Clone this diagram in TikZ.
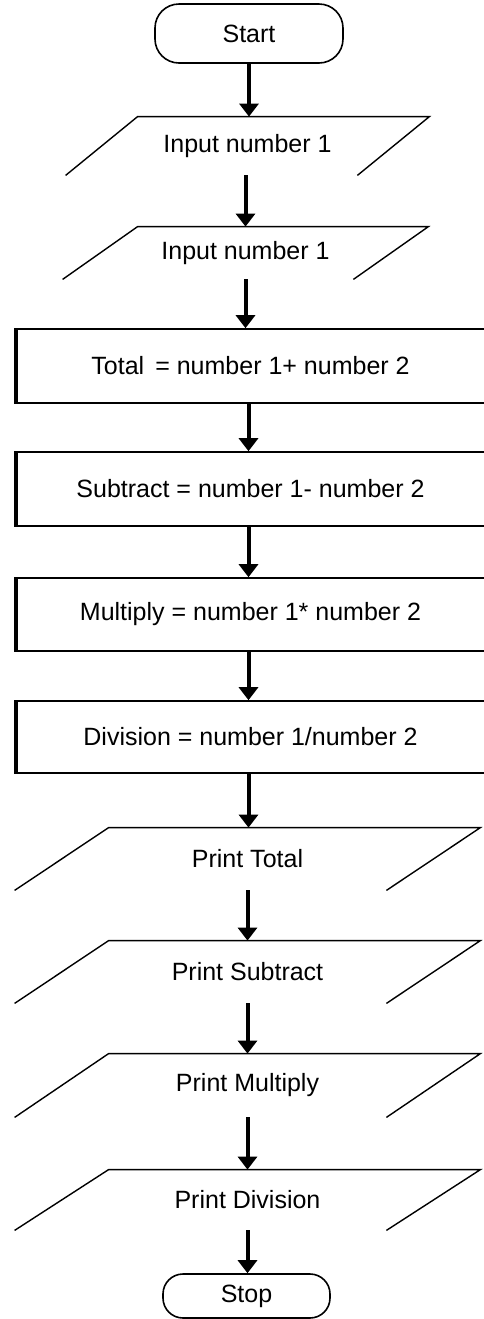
\documentclass[tikz,border=0pt]{standalone}
\usepackage{fontspec}
\setmainfont{Liberation Sans}
\usetikzlibrary{arrows.meta, calc}
\tikzset{
  term/.style={draw, line width=0.8pt, rounded corners=12pt, inner sep=0pt,
               font=\fontsize{12.5}{15}\selectfont},
  io/.style={inner sep=0pt, font=\fontsize{12.5}{15}\selectfont},
  proc/.style={draw, line width=0.8pt, minimum width=234.5pt, minimum height=37pt,
               inner sep=0pt, font=\fontsize{12.5}{15}\selectfont},
  ioline/.style={line width=0.7pt},
  flow/.style={-{Triangle[width=9.5pt,length=6.5pt]}, line width=2pt},
}
\newcommand{\ioshape}[2]{\draw[ioline] (#1.south west) -- ([xshift=#2]#1.north west)
  -- (#1.north east) -- ([xshift=-#2]#1.south east);}
\newcommand{\thickside}[1]{\draw[line width=1.8pt] ([xshift=0.4pt]#1.south west) -- ([xshift=0.4pt]#1.north west);}

\begin{document}
\begin{tikzpicture}[x=0.5pt,y=-0.5pt]
\useasboundingbox (0,0) rectangle (483,1319);
\fill[white] (0,0) rectangle (483,1319);
% terminals
\node[term,minimum width=94pt,minimum height=29.5pt] (start) at (249,33.5) {Start};
\node[term,minimum width=83.5pt,minimum height=22pt,rounded corners=10pt] (stop) at (246.5,1296) {Stop};
% input
\node[io,minimum width=181.5pt,minimum height=29pt] (inA) at (247.5,146) {Input number 1};
\node[io,minimum width=182.5pt,minimum height=26pt] (inB) at (245.5,253) {Input number 1};
\ioshape{inA}{36pt}\ioshape{inB}{37.5pt}
% process
\node[proc] (tot) at (250.5,366) {Total \,= number 1+ number 2};
\node[proc] (sub) at (250.5,489) {Subtract = number 1- number 2};
\node[proc,minimum height=36.5pt] (mul) at (250.5,614.5) {Multiply = number 1* number 2};
\node[proc,minimum height=36pt] (div) at (250.5,737) {Division = number 1/number 2};
\thickside{tot}\thickside{sub}\thickside{mul}\thickside{div}
% output
\node[io,minimum width=232.5pt,minimum height=31pt] (pTot) at (247.5,859) {Print Total};
\node[io,minimum width=232.5pt,minimum height=31pt] (pSub) at (247.5,972) {Print Subtract};
\node[io,minimum width=232.5pt,minimum height=31.5pt] (pMul) at (247.5,1085.5) {Print Multiply};
\node[io,minimum width=232.5pt,minimum height=30pt] (pDiv) at (247.5,1200) {Print Division};
\ioshape{pTot}{47pt}\ioshape{pSub}{47pt}\ioshape{pMul}{47pt}\ioshape{pDiv}{47pt}
% connectors
\draw[flow] (start.south)--(start.south |- inA.north);\draw[flow] ([xshift=-1pt]inA.south)--([xshift=-1pt]inA.south |- inB.north);
\draw[flow] (inB.south)--(inB.south |- tot.north);\draw[flow] ([xshift=-1pt]tot.south)--([xshift=-1pt]tot.south |- sub.north);
\draw[flow] ([xshift=-1pt]sub.south)--([xshift=-1pt]sub.south |- mul.north);\draw[flow] ([xshift=-1pt]mul.south)--([xshift=-1pt]mul.south |- div.north);
\draw[flow] ([xshift=-1pt]div.south)--([xshift=-1pt]div.south |- pTot.north);\draw[flow] (pTot.south)--(pTot.south |- pSub.north);
\draw[flow] (pSub.south)--(pSub.south |- pMul.north);\draw[flow] (pMul.south)--(pMul.south |- pDiv.north);
\draw[flow] (pDiv.south)--(pDiv.south |- stop.north);
\end{tikzpicture}
\end{document}
